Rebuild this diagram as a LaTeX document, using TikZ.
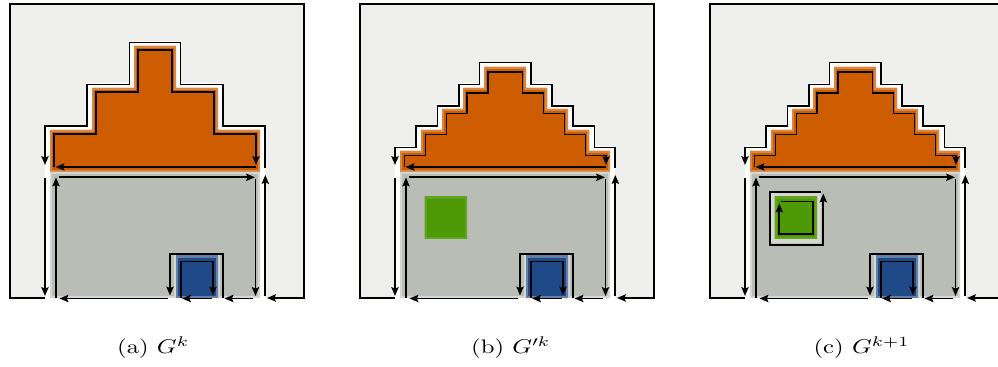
\documentclass[tikz,border=0pt]{standalone}
\usepackage{graphicx}
\usetikzlibrary{arrows.meta}
\definecolor{bg}{HTML}{EEEEEC}
\definecolor{wall}{HTML}{BABDB6}
\definecolor{roof}{HTML}{CE5C00}
\definecolor{door}{HTML}{204A87}
\definecolor{win}{HTML}{4E9A06}
\colorlet{roofL}{roof!75!white}
\colorlet{wallL}{wall!60!white}
\colorlet{doorL}{door!70!white}
\colorlet{winL}{win!90!white}
\tikzset{
  ct/.style={draw=black, line width=0.85pt, -{Stealth[length=4.4pt,width=3.6pt,inset=0.7pt]}},
  halo/.style={draw=white, line width=4.6pt},
  captext/.style={anchor=base, inner sep=0pt, font=\fontsize{9.8}{11}\selectfont},
}
\newcommand\face[3]{\begin{scope}\clip #3; \fill[#1] #3; \draw[#2, line width=2.4pt] #3;\end{scope}}
\newcommand\house[3]{%
  \fill[bg] (10,4) rectangle (304,298);
  \draw[halo] #1;
  \draw[halo] (50,172) rectangle (260,298);
  \face{roof}{roofL}{#1}
  \face{wall}{wallL}{(50,172) -- (260,172) -- (260,298) -- (218,298) -- (218,256) -- (176,256) -- (176,298) -- (50,298) -- cycle}
  \face{door}{doorL}{(176,256) rectangle (218,298)}
  \draw[ct] #2;
  \draw[ct] #3;
  \draw[ct] (256,167) -- (55.5,167);
  \draw[ct] (265.3,296) -- (265.3,175);
  \draw[ct] (45,178) -- (45,296);
  \draw[ct] (45,298) -- (10,298) -- (10,4) -- (304,4) -- (304,298) -- (267,298);
  \draw[ct] (59,177.3) -- (255,177.3);
  \draw[ct] (255.5,179) -- (255.5,296);
  \draw[ct] (253,298.5) -- (224.5,298.5);
  \draw[ct] (222.7,298) -- (222.7,254) -- (170,254) -- (170,295.5);
  \draw[ct] (168,298.5) -- (59.5,298.5);
  \draw[ct] (56,298) -- (56,177.5);
  \draw[ct] (181,298) -- (181,261.5) -- (213,261.5) -- (213,295.5);
  \draw[ct] (211.5,298.5) -- (182,298.5);
}
\begin{document}
\begin{tikzpicture}[x=0.5pt, y=-0.5pt]
\path[use as bounding box] (0,0) rectangle (998,367);
\clip (0,0) rectangle (998,367);
% (a)
\begin{scope}
\house{(50,172) -- (50,130) -- (92,130) -- (92,88) -- (134,88) -- (134,46) -- (176,46) -- (176,88) -- (218,88) -- (218,130) -- (260,130) -- (260,172) -- cycle}
{(265.3,168) -- (265.3,126) -- (223,126) -- (223,84.5) -- (180.5,84.5) -- (180.5,42.5) -- (129.5,42.5) -- (129.5,84.5) -- (87,84.5) -- (87,126) -- (45,126) -- (45,165)}
{(54,167) -- (54,134) -- (96,134) -- (96,92) -- (138,92) -- (138,50) -- (172,50) -- (172,92) -- (214,92) -- (214,134) -- (256,134) -- (256,165)}
\end{scope}
% (b)
\begin{scope}[shift={(350,0)}]
\house{(50,172) -- (50,151) -- (71,151) -- (71,130) -- (92,130) -- (92,109) -- (113,109) -- (113,88) -- (134,88) -- (134,67) -- (176,67) -- (176,88) -- (197,88) -- (197,109) -- (218,109) -- (218,130) -- (239,130) -- (239,151) -- (260,151) -- (260,172) -- cycle}
{(265.3,168) -- (265.3,147.5) -- (244.5,147.5) -- (244.5,126) -- (223,126) -- (223,106) -- (202,106) -- (202,84.5) -- (181,84.5) -- (181,62.5) -- (129.5,62.5) -- (129.5,84.5) -- (109,84.5) -- (109,106) -- (87.5,106) -- (87.5,126) -- (66,126) -- (66,147.5) -- (45,147.5) -- (45,165)}
{(54.5,167) -- (54.5,155.5) -- (75.5,155.5) -- (75.5,134.5) -- (96.5,134.5) -- (96.5,113.5) -- (117,113.5) -- (117,93) -- (138,93) -- (138,72) -- (172.5,72) -- (172.5,93) -- (193.5,93) -- (193.5,113.5) -- (214.5,113.5) -- (214.5,134.5) -- (235.5,134.5) -- (235.5,155.5) -- (256,155.5) -- (256,165)}
\face{win}{winL}{(74.5,196.7) rectangle (117,239)}
\end{scope}
% (c)
\begin{scope}[shift={(700,0)}]
\house{(50,172) -- (50,151) -- (71,151) -- (71,130) -- (92,130) -- (92,109) -- (113,109) -- (113,88) -- (134,88) -- (134,67) -- (176,67) -- (176,88) -- (197,88) -- (197,109) -- (218,109) -- (218,130) -- (239,130) -- (239,151) -- (260,151) -- (260,172) -- cycle}
{(265.3,168) -- (265.3,147.5) -- (244.5,147.5) -- (244.5,126) -- (223,126) -- (223,106) -- (202,106) -- (202,84.5) -- (181,84.5) -- (181,62.5) -- (129.5,62.5) -- (129.5,84.5) -- (109,84.5) -- (109,106) -- (87.5,106) -- (87.5,126) -- (66,126) -- (66,147.5) -- (45,147.5) -- (45,165)}
{(54.5,167) -- (54.5,155.5) -- (75.5,155.5) -- (75.5,134.5) -- (96.5,134.5) -- (96.5,113.5) -- (117,113.5) -- (117,93) -- (138,93) -- (138,72) -- (172.5,72) -- (172.5,93) -- (193.5,93) -- (193.5,113.5) -- (214.5,113.5) -- (214.5,134.5) -- (235.5,134.5) -- (235.5,155.5) -- (256,155.5) -- (256,165)}
\draw[wallL, line width=2.4pt] (73.3,195.5) rectangle (118.2,240.2);
\face{win}{winL}{(74.5,196.7) rectangle (117,239)}
\draw[ct] (120.7,191.7) -- (70,191.7) -- (70,245) -- (123.3,245) -- (123.3,193.5);
\draw[ct] (81,201.5) -- (112.7,201.5) -- (112.7,234.3) -- (79.3,234.3) -- (79.3,203.5);
\end{scope}
% captions
\node[captext] (capa) at (153.2,353.5) {\scalebox{1.26}[1]{(a)~$G^k$}};
\node[captext] (capb) at (510.8,353.5) {\scalebox{1.26}[1]{(b)~$G'^k$}};
\node[captext] (capc) at (861.7,353.5) {\scalebox{1.26}[1]{(c)~$G^{k+1}$}};
\end{tikzpicture}
\end{document}
